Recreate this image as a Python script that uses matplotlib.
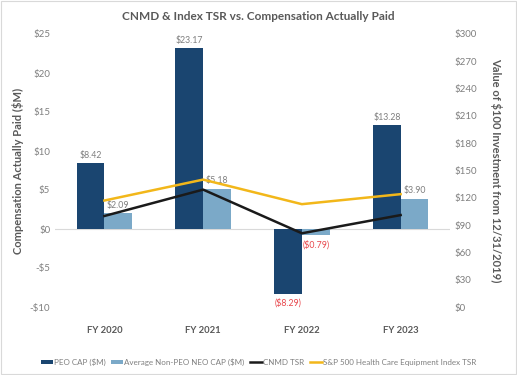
import numpy as np
import matplotlib.pyplot as plt

plt.rcParams['font.family'] = ['Lato', 'DejaVu Sans']

years = ['FY 2020', 'FY 2021', 'FY 2022', 'FY 2023']
peo_cap = [8.42, 23.17, -8.29, 13.28]
neo_cap = [2.09, 5.18, -0.79, 3.90]
cnmd_tsr = [100, 129, 81, 101]
index_tsr = [117, 140, 113, 124]

navy = '#1A4570'
light = '#7BA9C8'
gold = '#F2B71A'
grey = '#595959'
tick_grey = '#7F7F7F'
red = '#E8474C'

fig = plt.figure(figsize=(5.17, 3.75), dpi=100)
ax = fig.add_axes([55/517, 68/375, 395/517, 273/375])
ax2 = ax.twinx()

x = np.arange(len(years))
w = 0.28
b1 = ax.bar(x - w/2, peo_cap, w, color=navy, label='PEO CAP ($M)', zorder=2)
b2 = ax.bar(x + w/2, neo_cap, w, color=light, label='Average Non-PEO NEO CAP ($M)', zorder=2)
ax.axhline(0, color='#D9D9D9', lw=0.8, zorder=1)

def fmt(v):
    return f'(${-v:.2f})' if v < 0 else f'${v:.2f}'

for bars, vals in [(b1, peo_cap), (b2, neo_cap)]:
    for r, v in zip(bars, vals):
        cx = r.get_x() + r.get_width()/2
        if v >= 0:
            ax.text(cx, v + 0.4, fmt(v), ha='center', va='bottom', fontsize=6.3, color=tick_grey)
        else:
            ax.text(cx, v - 0.6, fmt(v), ha='center', va='top', fontsize=6.3, color=red)

ax2.plot(x, cnmd_tsr, color='#1A1A1A', lw=1.8, label='CNMD TSR')
ax2.plot(x, index_tsr, color=gold, lw=1.8, label='S&P 500 Health Care Equipment Index TSR')

ax.set_xlim(-0.5, 3.5)
ax.set_ylim(-10, 25)
ax.set_yticks(range(-10, 26, 5))
ax.set_yticklabels([f'-${-t}' if t < 0 else f'${t}' for t in range(-10, 26, 5)])
ax2.set_ylim(0, 300)
ax2.set_yticks(range(0, 301, 30))
ax2.set_yticklabels([f'${t}' for t in range(0, 301, 30)])
ax.set_xticks(x)
ax.set_xticklabels(years, fontweight='bold', color=grey)

for a in (ax, ax2):
    for s in a.spines.values():
        s.set_visible(False)
    a.tick_params(length=0, labelcolor=tick_grey, labelsize=7)
ax.tick_params(axis='x', pad=14, labelcolor=grey, labelsize=6.8)

ax.set_ylabel('Compensation Actually Paid ($M)', fontsize=8, fontweight='bold', color=grey, labelpad=4)
ax2.set_ylabel('Value of $100 Investment from 12/31/2019)', fontsize=8, fontweight='bold',
               color=grey, rotation=270, labelpad=18)
fig.text(0.5, 1 - 17/375, 'CNMD & Index TSR vs. Compensation Actually Paid', ha='center',
         va='center', fontsize=8.5, fontweight='bold', color=grey)

h1, l1 = ax.get_legend_handles_labels()
h2, l2 = ax2.get_legend_handles_labels()
fig.legend(h1 + h2, l1 + l2, loc='center', bbox_to_anchor=(0.5, 1 - 362/375), ncol=4,
           frameon=False, fontsize=5.8, labelcolor=tick_grey, handlelength=1.5,
           handleheight=0.5, handletextpad=0.1, columnspacing=0.7)

fig.patches.append(plt.Rectangle((0.002, 0.003), 0.996, 0.994, transform=fig.transFigure,
                                 fill=False, edgecolor='#D9D9D9', lw=0.8))

fig.savefig('out.png', dpi=100)
